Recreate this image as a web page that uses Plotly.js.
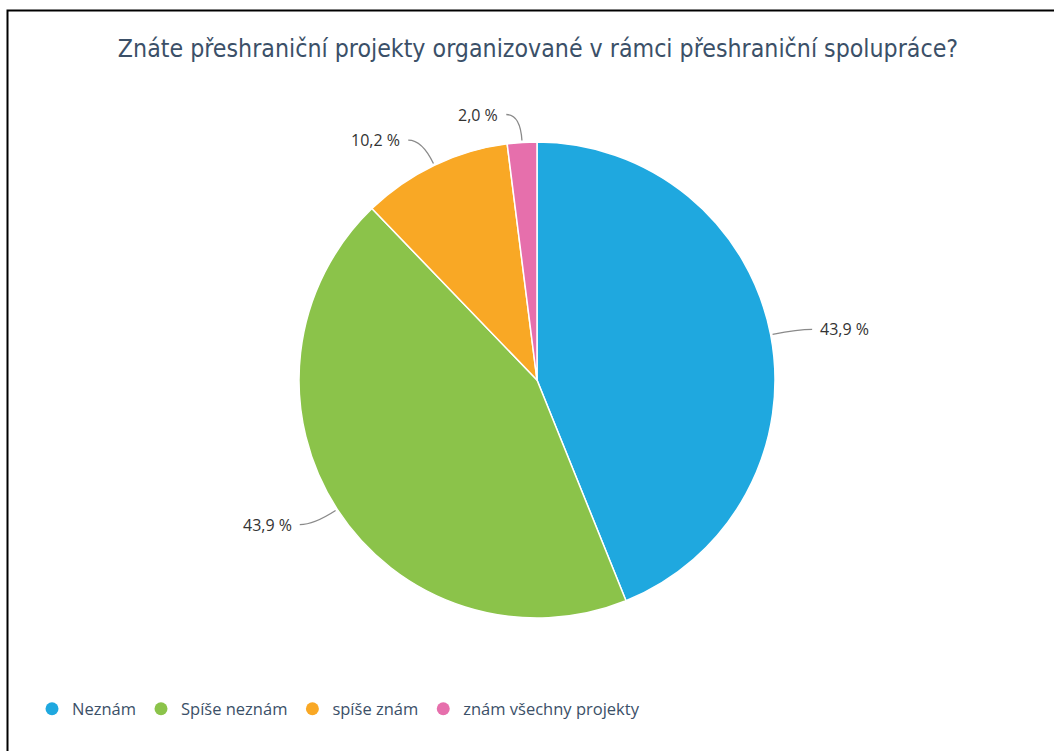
<!DOCTYPE html>
<html>
<head>
<meta charset="utf-8">
<script src="https://cdn.plot.ly/plotly-3.0.1.min.js"></script>
<style>html,body{margin:0;padding:0;background:#fff;}#chart{width:1054px;height:751px;}</style>
</head>
<body>
<div id="chart"></div>
<script>
const categories = ["Neznám", "Spíše neznám", "spíše znám", "znám všechny projekty"];
const values = [43.9, 43.9, 10.2, 2.0];
const labelTexts = ["43,9 %", "43,9 %", "10,2 %", "2,0 %"];
const colors = ["#1fa8df", "#8bc34a", "#f9a825", "#e66fac"];

const W = 1054, H = 751;
const CX = 537, CY = 380, R = 238;
const toPX = x => x / W;
const toPY = y => 1 - y / H;

const pie = {
  type: "pie",
  labels: categories,
  values: values,
  sort: false,
  direction: "clockwise",
  rotation: 0,
  textinfo: "none",
  hoverinfo: "label+percent",
  showlegend: false,
  marker: { colors: colors, line: { color: "#ffffff", width: 1.5 } },
  domain: { x: [toPX(CX - R), toPX(CX + R)], y: [toPY(CY + R), toPY(CY - R)] }
};

const legendTraces = categories.map((c, i) => ({
  type: "scatter", mode: "markers", x: [null], y: [null], name: c,
  marker: { color: colors[i], size: 13, symbol: "circle" }, showlegend: true, hoverinfo: "skip"
}));

// leader lines and labels computed from slice angles
const total = values.reduce((a, b) => a + b, 0);
const shapes = [];
const annotations = [];
let cum = 0;
values.forEach((v, i) => {
  const mid = (cum + v / 2) / total * 2 * Math.PI;
  cum += v;
  const dx = Math.sin(mid), dy = -Math.cos(mid);
  const ex = CX + (R + 2) * dx, ey = CY + (R + 2) * dy;
  const px = CX + (R + 28) * dx, py = CY + (R + 28) * dy;
  const side = dx >= 0 ? 1 : -1;
  const tx = px + side * 14, ty = py;
  shapes.push({
    type: "path", xref: "paper", yref: "paper",
    path: `M ${toPX(ex)},${toPY(ey)} Q ${toPX(px)},${toPY(py)} ${toPX(tx)},${toPY(ty)}`,
    line: { color: "#8a8a8a", width: 1.3 }
  });
  annotations.push({
    xref: "paper", yref: "paper", x: toPX(tx + side * 6), y: toPY(ty),
    xanchor: side > 0 ? "left" : "right", yanchor: "middle",
    text: labelTexts[i], showarrow: false,
    font: { family: "Open Sans, sans-serif", size: 16, color: "#333333" }
  });
});

// frame
shapes.push({
  type: "rect", xref: "paper", yref: "paper",
  x0: toPX(7.5), x1: 1.2, y0: -0.2, y1: toPY(10.5),
  line: { color: "#000000", width: 2 }, fillcolor: "rgba(0,0,0,0)", layer: "above"
});

const layout = {
  width: W, height: H,
  margin: { l: 0, r: 0, t: 0, b: 0 },
  paper_bgcolor: "#ffffff", plot_bgcolor: "#ffffff",
  title: {
    text: "Znáte přeshraniční projekty organizované v rámci přeshraniční spolupráce?",
    font: { family: "DejaVu Sans Condensed, DejaVu Sans, sans-serif", size: 24.7, color: "#3b5068" },
    x: 538 / W, xanchor: "center", y: toPY(48), yanchor: "middle", yref: "paper"
  },
  xaxis: { visible: false }, yaxis: { visible: false },
  showlegend: true,
  legend: {
    orientation: "h", x: toPX(32), xanchor: "left", y: toPY(709), yanchor: "middle",
    font: { family: "Open Sans, sans-serif", size: 16.5, color: "#3b5068" },
    itemclick: false, itemdoubleclick: false, bgcolor: "rgba(0,0,0,0)"
  },
  shapes: shapes,
  annotations: annotations
};

Plotly.newPlot("chart", [pie, ...legendTraces], layout, { displayModeBar: false, staticPlot: true });
</script>
</body>
</html>
